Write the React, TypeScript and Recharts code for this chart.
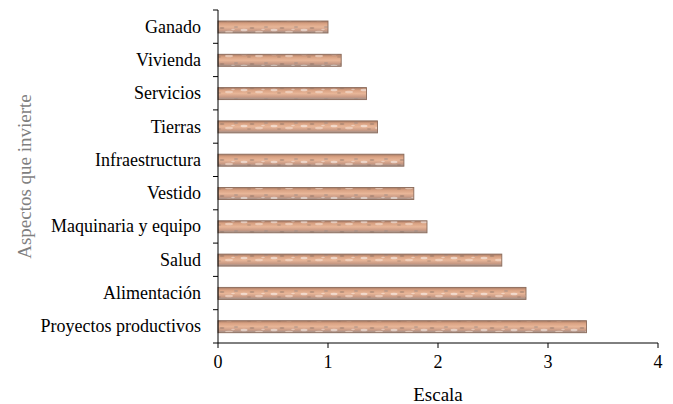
import { Bar, BarChart, XAxis, YAxis } from 'recharts'

// Escala promedio por aspecto en que invierte
const categories = [
  'Ganado', 'Vivienda', 'Servicios', 'Tierras', 'Infraestructura',
  'Vestido', 'Maquinaria y equipo', 'Salud', 'Alimentación ', 'Proyectos productivos',
]
const escala = [1.0, 1.12, 1.35, 1.45, 1.69, 1.78, 1.9, 2.58, 2.8, 3.35]
const xTicks = [0, 1, 2, 3, 4]

const W = 673
const H = 404
const MARGIN = { top: 10, right: 15, bottom: 0, left: 0 }
const Y_AXIS_W = 218
const X_AXIS_H = 61
const FONT = 'Liberation Serif, Times New Roman, serif'

const data = categories.map((c, i) => ({ name: c, value: escala[i] }))
const band = (H - MARGIN.top - MARGIN.bottom - X_AXIS_H) / categories.length

function CategoryTick(props: any) {
  const { x, y, payload, index } = props
  const axisX = MARGIN.left + Y_AXIS_W
  return (
    <g>
      <line x1={axisX - 5} x2={axisX} y1={y - band / 2} y2={y - band / 2} stroke="#000" />
      {index === categories.length - 1 && (
        <line x1={axisX - 5} x2={axisX} y1={y + band / 2} y2={y + band / 2} stroke="#000" />
      )}
      <text x={x - 9} y={y} dy={6} textAnchor="end" style={{ fontSize: 18, fontFamily: FONT }} fill="#000">
        {payload.value}
      </text>
    </g>
  )
}

function MarbleBar(props: any) {
  const { x, y, width, height } = props
  if (!width || width <= 0) return null
  return (
    <g>
      <rect x={x} y={y} width={width} height={height} fill="url(#marbleShade)" />
      <rect x={x} y={y} width={width} height={height} fill="url(#marbleSpeckle)" />
      <rect x={x} y={y} width={width} height={height} fill="none" stroke="#8a6a5a" strokeWidth={0.9} />
    </g>
  )
}

export default function App() {
  return (
    <div style={{ position: 'absolute', left: 0, top: 0, width: W, height: H, background: '#fff', fontFamily: FONT }}>
      <BarChart width={W} height={H} data={data} layout="vertical" margin={MARGIN} barCategoryGap={0}>
        <defs>
          <linearGradient id="marbleShade" x1="0" y1="0" x2="0" y2="1">
            <stop offset="0%" stopColor="#a87a64" />
            <stop offset="22%" stopColor="#d9a283" />
            <stop offset="50%" stopColor="#e8b698" />
            <stop offset="78%" stopColor="#c99a84" />
            <stop offset="100%" stopColor="#9e918c" />
          </linearGradient>
          <pattern id="marbleSpeckle" patternUnits="userSpaceOnUse" width="30" height="12">
            <ellipse cx="4" cy="6" rx="3.5" ry="1.3" fill="#ffffff" opacity="0.5" />
            <ellipse cx="12" cy="4" rx="2.5" ry="1" fill="#7d665d" opacity="0.4" />
            <ellipse cx="19" cy="8" rx="4" ry="1.3" fill="#f7e1d3" opacity="0.6" />
            <ellipse cx="26" cy="3" rx="2.2" ry="0.9" fill="#988a85" opacity="0.45" />
            <ellipse cx="9" cy="9" rx="2.2" ry="0.8" fill="#7a645b" opacity="0.35" />
            <ellipse cx="23" cy="5.5" rx="1.8" ry="0.8" fill="#ffffff" opacity="0.4" />
          </pattern>
        </defs>
        <XAxis
          type="number"
          domain={[0, 4]}
          ticks={xTicks}
          height={X_AXIS_H}
          axisLine={{ stroke: '#000' }}
          tickLine={{ stroke: '#000' }}
          tickSize={5}
          tickMargin={7}
          tick={{ fill: '#000', style: { fontSize: 18, fontFamily: FONT } }}
          label={{ value: 'Escala', position: 'insideBottom', offset: 3, fill: '#000', style: { fontSize: 19, fontFamily: FONT } }}
        />
        <YAxis
          type="category"
          dataKey="name"
          width={Y_AXIS_W}
          axisLine={{ stroke: '#000' }}
          tickLine={false}
          interval={0}
          tick={<CategoryTick />}
          label={{
            value: 'Aspectos que invierte',
            angle: -90,
            position: 'insideLeft',
            offset: 24,
            fill: '#7f7f7f',
            style: { textAnchor: 'middle', fontSize: 19, fontFamily: FONT },
          }}
        />
        <Bar dataKey="value" barSize={12} shape={<MarbleBar />} isAnimationActive={false} />
      </BarChart>
    </div>
  )
}
